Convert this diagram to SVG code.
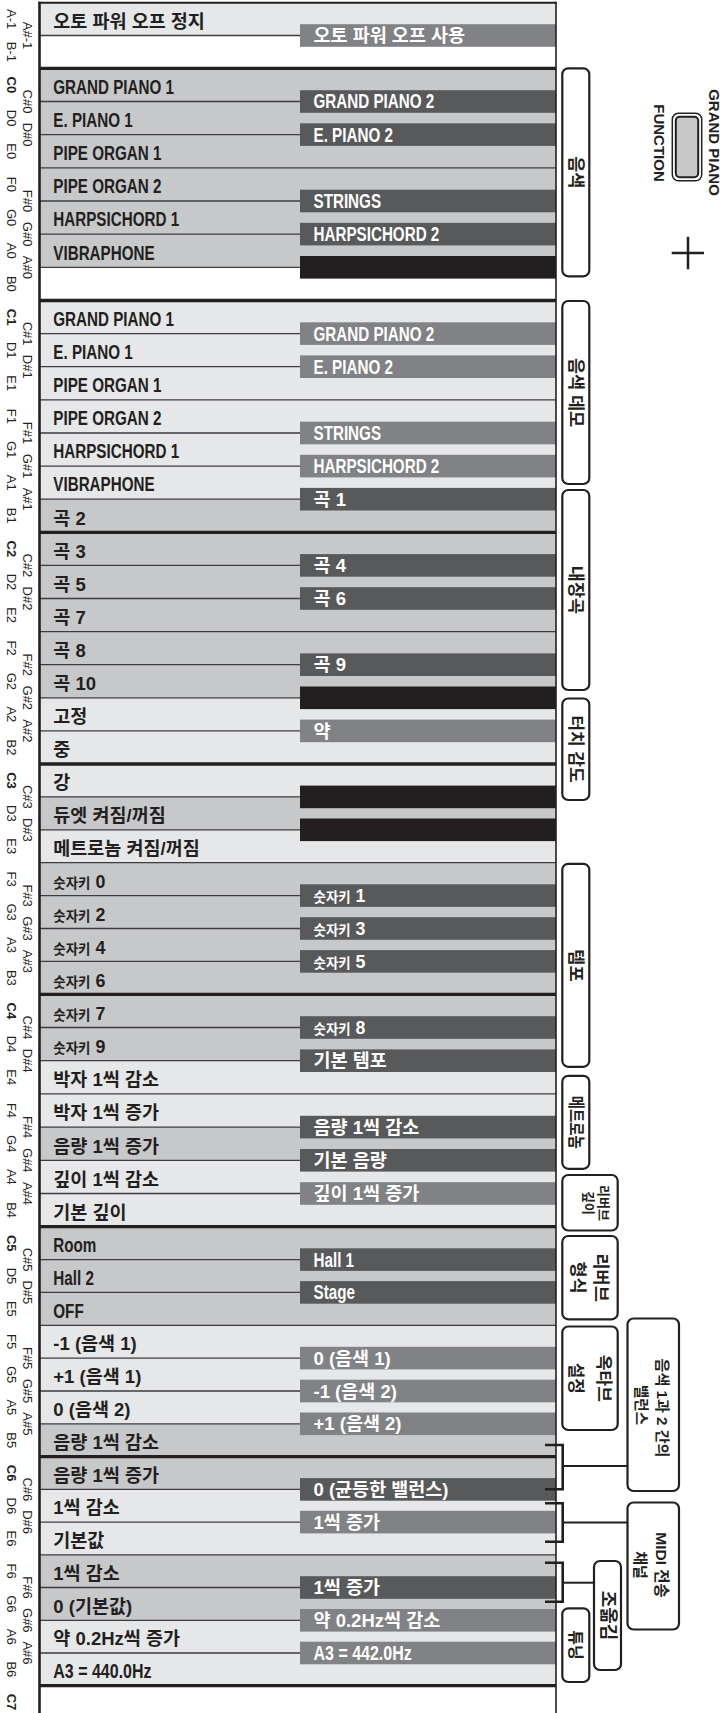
<svg xmlns="http://www.w3.org/2000/svg" width="725" height="1713" viewBox="0 0 725 1713">
<style>
.lt{fill:#e6e7e8}.md{fill:#c7c8ca}.wh{fill:#fff}
.bm{fill:#808285}.bd{fill:#58595b}.bk{fill:#231f20}
.rl{fill:none;stroke:#3d3d3f;stroke-width:1.3}
.cl{fill:none;stroke:#231f20;stroke-width:3.3}
.t{font-family:"Liberation Sans","Noto Sans CJK KR",sans-serif;font-weight:bold;font-size:18.5px;fill:#231f20}
.lat{font-size:19.5px}
.w{fill:#fff}
.s{font-size:14px}
.n{font-family:"Liberation Sans",sans-serif;font-size:13px;fill:#231f20;text-anchor:middle;dominant-baseline:central}
.nb{font-weight:bold}
.box{fill:#fff;stroke:#231f20;stroke-width:2.2}
.bl{font-family:"Liberation Sans","Noto Sans CJK KR",sans-serif;font-weight:bold;fill:#231f20;text-anchor:middle;dominant-baseline:central}
.br{fill:none;stroke:#231f20;stroke-width:2.6}
.cn{fill:none;stroke:#231f20;stroke-width:2}
</style>
<rect width="725" height="1713" fill="#fff"/>

<!-- white key rows -->
<g id="key-A-1"><rect class="lt" x="39.5" y="2.7" width="516.5" height="32.8"/><text class="t" x="53.3" y="27.7">오토 파워 오프 정지</text></g>
<g id="key-B-1"><rect class="wh" x="39.5" y="35.5" width="516.5" height="32.8"/></g>

<g id="key-C0"><rect class="md" x="39.5" y="68.3" width="516.5" height="33.2"/><text class="t lat" transform="matrix(0.78 0 0 1 53.3 93.7)">GRAND PIANO 1</text></g>
<g id="key-D0"><rect class="md" x="39.5" y="101.5" width="516.5" height="33.1"/><text class="t lat" transform="matrix(0.78 0 0 1 53.3 126.8)">E. PIANO 1</text></g>
<g id="key-E0"><rect class="md" x="39.5" y="134.6" width="516.5" height="33.2"/><text class="t lat" transform="matrix(0.78 0 0 1 53.3 160)">PIPE ORGAN 1</text></g>
<g id="key-F0"><rect class="md" x="39.5" y="167.8" width="516.5" height="33.2"/><text class="t lat" transform="matrix(0.78 0 0 1 53.3 193.2)">PIPE ORGAN 2</text></g>
<g id="key-G0"><rect class="md" x="39.5" y="201" width="516.5" height="33.1"/><text class="t lat" transform="matrix(0.78 0 0 1 53.3 226.3)">HARPSICHORD 1</text></g>
<g id="key-A0"><rect class="md" x="39.5" y="234.1" width="516.5" height="33.2"/><text class="t lat" transform="matrix(0.78 0 0 1 53.3 259.5)">VIBRAPHONE</text></g>
<g id="key-B0"><rect class="wh" x="39.5" y="267.3" width="516.5" height="33.2"/></g>

<g id="key-C1"><rect class="lt" x="39.5" y="300.5" width="516.5" height="33.1"/><text class="t lat" transform="matrix(0.78 0 0 1 53.3 325.8)">GRAND PIANO 1</text></g>
<g id="key-D1"><rect class="lt" x="39.5" y="333.6" width="516.5" height="33.1"/><text class="t lat" transform="matrix(0.78 0 0 1 53.3 358.9)">E. PIANO 1</text></g>
<g id="key-E1"><rect class="lt" x="39.5" y="366.7" width="516.5" height="33.1"/><text class="t lat" transform="matrix(0.78 0 0 1 53.3 392)">PIPE ORGAN 1</text></g>
<g id="key-F1"><rect class="lt" x="39.5" y="399.8" width="516.5" height="33.2"/><text class="t lat" transform="matrix(0.78 0 0 1 53.3 425.2)">PIPE ORGAN 2</text></g>
<g id="key-G1"><rect class="lt" x="39.5" y="433" width="516.5" height="33.1"/><text class="t lat" transform="matrix(0.78 0 0 1 53.3 458.3)">HARPSICHORD 1</text></g>
<g id="key-A1"><rect class="lt" x="39.5" y="466.1" width="516.5" height="33.1"/><text class="t lat" transform="matrix(0.78 0 0 1 53.3 491.4)">VIBRAPHONE</text></g>
<g id="key-B1"><rect class="md" x="39.5" y="499.2" width="516.5" height="33.1"/><text class="t" x="53.3" y="524.5">곡 2</text></g>

<g id="key-C2"><rect class="md" x="39.5" y="532.3" width="516.5" height="33.1"/><text class="t" x="53.3" y="557.6">곡 3</text></g>
<g id="key-D2"><rect class="md" x="39.5" y="565.4" width="516.5" height="33.1"/><text class="t" x="53.3" y="590.7">곡 5</text></g>
<g id="key-E2"><rect class="md" x="39.5" y="598.5" width="516.5" height="33.1"/><text class="t" x="53.3" y="623.8">곡 7</text></g>
<g id="key-F2"><rect class="md" x="39.5" y="631.6" width="516.5" height="33.1"/><text class="t" x="53.3" y="656.9">곡 8</text></g>
<g id="key-G2"><rect class="md" x="39.5" y="664.7" width="516.5" height="33.1"/><text class="t" x="53.3" y="690">곡 10</text></g>
<g id="key-A2"><rect class="lt" x="39.5" y="697.8" width="516.5" height="33.1"/><text class="t" x="53.3" y="723.1">고정</text></g>
<g id="key-B2"><rect class="lt" x="39.5" y="730.9" width="516.5" height="33.1"/><text class="t" x="53.3" y="756.2">중</text></g>

<g id="key-C3"><rect class="lt" x="39.5" y="764" width="516.5" height="32.9"/><text class="t" x="53.3" y="789.1">강</text></g>
<g id="key-D3"><rect class="md" x="39.5" y="796.9" width="516.5" height="32.9"/><text class="t" x="53.3" y="822">듀엣 켜짐/꺼짐</text></g>
<g id="key-E3"><rect class="lt" x="39.5" y="829.8" width="516.5" height="32.9"/><text class="t" x="53.3" y="854.9">메트로놈 켜짐/꺼짐</text></g>
<g id="key-F3"><rect class="md" x="39.5" y="862.7" width="516.5" height="32.9"/><text class="t" x="53.3" y="887.8" textLength="52" lengthAdjust="spacingAndGlyphs"><tspan class="s">숫자키</tspan> 0</text></g>
<g id="key-G3"><rect class="md" x="39.5" y="895.6" width="516.5" height="32.9"/><text class="t" x="53.3" y="920.7" textLength="52" lengthAdjust="spacingAndGlyphs"><tspan class="s">숫자키</tspan> 2</text></g>
<g id="key-A3"><rect class="md" x="39.5" y="928.5" width="516.5" height="32.9"/><text class="t" x="53.3" y="953.6" textLength="52" lengthAdjust="spacingAndGlyphs"><tspan class="s">숫자키</tspan> 4</text></g>
<g id="key-B3"><rect class="md" x="39.5" y="961.4" width="516.5" height="32.9"/><text class="t" x="53.3" y="986.5" textLength="52" lengthAdjust="spacingAndGlyphs"><tspan class="s">숫자키</tspan> 6</text></g>

<g id="key-C4"><rect class="md" x="39.5" y="994.3" width="516.5" height="33.2"/><text class="t" x="53.3" y="1019.7" textLength="52" lengthAdjust="spacingAndGlyphs"><tspan class="s">숫자키</tspan> 7</text></g>
<g id="key-D4"><rect class="md" x="39.5" y="1027.5" width="516.5" height="33.2"/><text class="t" x="53.3" y="1052.9" textLength="52" lengthAdjust="spacingAndGlyphs"><tspan class="s">숫자키</tspan> 9</text></g>
<g id="key-E4"><rect class="lt" x="39.5" y="1060.7" width="516.5" height="33.2"/><text class="t" x="53.3" y="1086.1">박자 1씩 감소</text></g>
<g id="key-F4"><rect class="lt" x="39.5" y="1093.9" width="516.5" height="33.2"/><text class="t" x="53.3" y="1119.3">박자 1씩 증가</text></g>
<g id="key-G4"><rect class="md" x="39.5" y="1127.1" width="516.5" height="33.2"/><text class="t" x="53.3" y="1152.5">음량 1씩 증가</text></g>
<g id="key-A4"><rect class="lt" x="39.5" y="1160.3" width="516.5" height="33.2"/><text class="t" x="53.3" y="1185.7">깊이 1씩 감소</text></g>
<g id="key-B4"><rect class="lt" x="39.5" y="1193.5" width="516.5" height="33.2"/><text class="t" x="53.3" y="1218.9">기본 깊이</text></g>

<g id="key-C5"><rect class="md" x="39.5" y="1226.7" width="516.5" height="32.9"/><text class="t lat" transform="matrix(0.78 0 0 1 53.3 1251.8)">Room</text></g>
<g id="key-D5"><rect class="md" x="39.5" y="1259.6" width="516.5" height="32.8"/><text class="t lat" transform="matrix(0.78 0 0 1 53.3 1284.6)">Hall 2</text></g>
<g id="key-E5"><rect class="md" x="39.5" y="1292.4" width="516.5" height="32.9"/><text class="t lat" transform="matrix(0.78 0 0 1 53.3 1317.5)">OFF</text></g>
<g id="key-F5"><rect class="lt" x="39.5" y="1325.3" width="516.5" height="32.8"/><text class="t" x="53.3" y="1350.3">-1 (음색 1)</text></g>
<g id="key-G5"><rect class="lt" x="39.5" y="1358.1" width="516.5" height="32.9"/><text class="t" x="53.3" y="1383.2">+1 (음색 1)</text></g>
<g id="key-A5"><rect class="lt" x="39.5" y="1391" width="516.5" height="32.8"/><text class="t" x="53.3" y="1416">0 (음색 2)</text></g>
<g id="key-B5"><rect class="md" x="39.5" y="1423.8" width="516.5" height="32.9"/><text class="t" x="53.3" y="1448.9">음량 1씩 감소</text></g>

<g id="key-C6"><rect class="md" x="39.5" y="1456.7" width="516.5" height="32.7"/><text class="t" x="53.3" y="1481.6">음량 1씩 증가</text></g>
<g id="key-D6"><rect class="lt" x="39.5" y="1489.4" width="516.5" height="32.7"/><text class="t" x="53.3" y="1514.3">1씩 감소</text></g>
<g id="key-E6"><rect class="lt" x="39.5" y="1522.1" width="516.5" height="32.7"/><text class="t" x="53.3" y="1547">기본값</text></g>
<g id="key-F6"><rect class="md" x="39.5" y="1554.8" width="516.5" height="32.7"/><text class="t" x="53.3" y="1579.7">1씩 감소</text></g>
<g id="key-G6"><rect class="md" x="39.5" y="1587.5" width="516.5" height="32.8"/><text class="t" x="53.3" y="1612.5">0 (기본값)</text></g>
<g id="key-A6"><rect class="lt" x="39.5" y="1620.3" width="516.5" height="32.7"/><text class="t" x="53.3" y="1645.2">약 0.2Hz씩 증가</text></g>
<g id="key-B6"><rect class="lt" x="39.5" y="1653" width="516.5" height="32.7"/><text class="t lat" transform="matrix(0.82 0 0 1 53.3 1677.9)">A3 = 440.0Hz</text></g>
<g id="key-C7"><rect class="wh" x="39.5" y="1685.7" width="516.5" height="27.3"/></g>

<!-- row separators -->
<g id="separators">
<path class="rl" d="M39.5 35.5H556M39.5 101.5H556M39.5 134.6H556M39.5 167.8H556M39.5 201H556M39.5 234.1H556M39.5 267.3H556M39.5 333.6H556M39.5 366.7H556M39.5 399.8H556M39.5 433H556M39.5 466.1H556M39.5 499.2H556M39.5 565.4H556M39.5 598.5H556M39.5 631.6H556M39.5 664.7H556M39.5 697.8H556M39.5 730.9H556M39.5 796.9H556M39.5 829.8H556M39.5 862.7H556M39.5 895.6H556M39.5 928.5H556M39.5 961.4H556M39.5 1027.5H556M39.5 1060.7H556M39.5 1093.9H556M39.5 1127.1H556M39.5 1160.3H556M39.5 1193.5H556M39.5 1259.6H556M39.5 1292.4H556M39.5 1325.3H556M39.5 1358.1H556M39.5 1391H556M39.5 1423.8H556M39.5 1489.4H556M39.5 1522.1H556M39.5 1554.8H556M39.5 1587.5H556M39.5 1620.3H556M39.5 1653H556"/>
<path class="cl" d="M39.5 68.3H556M39.5 300.5H556M39.5 532.3H556M39.5 764H556M39.5 994.3H556M39.5 1226.7H556M39.5 1456.7H556M39.5 1685.7H556"/>
</g>

<!-- black key bars -->
<g id="key-Asharp-1"><rect class="bm" x="300" y="24.2" width="256" height="22.6"/><text class="t w" x="313.5" y="42.1">오토 파워 오프 사용</text></g>

<g id="key-Csharp0"><rect class="bd" x="300" y="90.2" width="256" height="22.6"/><text class="t lat w" transform="matrix(0.78 0 0 1 313.5 108.4)">GRAND PIANO 2</text></g>
<g id="key-Dsharp0"><rect class="bd" x="300" y="123.3" width="256" height="22.6"/><text class="t lat w" transform="matrix(0.78 0 0 1 313.5 141.5)">E. PIANO 2</text></g>
<g id="key-Fsharp0"><rect class="bd" x="300" y="189.7" width="256" height="22.6"/><text class="t lat w" transform="matrix(0.78 0 0 1 313.5 207.9)">STRINGS</text></g>
<g id="key-Gsharp0"><rect class="bd" x="300" y="222.8" width="256" height="22.6"/><text class="t lat w" transform="matrix(0.78 0 0 1 313.5 241)">HARPSICHORD 2</text></g>
<g id="key-Asharp0"><rect class="bk" x="300" y="256" width="256" height="22.6"/></g>

<g id="key-Csharp1"><rect class="bm" x="300" y="322.3" width="256" height="22.6"/><text class="t lat w" transform="matrix(0.78 0 0 1 313.5 340.5)">GRAND PIANO 2</text></g>
<g id="key-Dsharp1"><rect class="bm" x="300" y="355.4" width="256" height="22.6"/><text class="t lat w" transform="matrix(0.78 0 0 1 313.5 373.6)">E. PIANO 2</text></g>
<g id="key-Fsharp1"><rect class="bm" x="300" y="421.7" width="256" height="22.6"/><text class="t lat w" transform="matrix(0.78 0 0 1 313.5 439.9)">STRINGS</text></g>
<g id="key-Gsharp1"><rect class="bm" x="300" y="454.8" width="256" height="22.6"/><text class="t lat w" transform="matrix(0.78 0 0 1 313.5 473)">HARPSICHORD 2</text></g>
<g id="key-Asharp1"><rect class="bd" x="300" y="487.9" width="256" height="22.6"/><text class="t w" x="313.5" y="505.8">곡 1</text></g>

<g id="key-Csharp2"><rect class="bd" x="300" y="554.1" width="256" height="22.6"/><text class="t w" x="313.5" y="572">곡 4</text></g>
<g id="key-Dsharp2"><rect class="bd" x="300" y="587.2" width="256" height="22.6"/><text class="t w" x="313.5" y="605.1">곡 6</text></g>
<g id="key-Fsharp2"><rect class="bd" x="300" y="653.4" width="256" height="22.6"/><text class="t w" x="313.5" y="671.3">곡 9</text></g>
<g id="key-Gsharp2"><rect class="bk" x="300" y="686.5" width="256" height="22.6"/></g>
<g id="key-Asharp2"><rect class="bm" x="300" y="719.6" width="256" height="22.6"/><text class="t w" x="313.5" y="737.5">약</text></g>

<g id="key-Csharp3"><rect class="bk" x="300" y="785.6" width="256" height="22.6"/></g>
<g id="key-Dsharp3"><rect class="bk" x="300" y="818.5" width="256" height="22.6"/></g>
<g id="key-Fsharp3"><rect class="bd" x="300" y="884.3" width="256" height="22.6"/><text class="t w" x="313.5" y="902.2" textLength="52" lengthAdjust="spacingAndGlyphs"><tspan class="s">숫자키</tspan> 1</text></g>
<g id="key-Gsharp3"><rect class="bd" x="300" y="917.2" width="256" height="22.6"/><text class="t w" x="313.5" y="935.1" textLength="52" lengthAdjust="spacingAndGlyphs"><tspan class="s">숫자키</tspan> 3</text></g>
<g id="key-Asharp3"><rect class="bd" x="300" y="950.1" width="256" height="22.6"/><text class="t w" x="313.5" y="968" textLength="52" lengthAdjust="spacingAndGlyphs"><tspan class="s">숫자키</tspan> 5</text></g>

<g id="key-Csharp4"><rect class="bd" x="300" y="1016.2" width="256" height="22.6"/><text class="t w" x="313.5" y="1034.1" textLength="52" lengthAdjust="spacingAndGlyphs"><tspan class="s">숫자키</tspan> 8</text></g>
<g id="key-Dsharp4"><rect class="bd" x="300" y="1049.4" width="256" height="22.6"/><text class="t w" x="313.5" y="1067.3">기본 템포</text></g>
<g id="key-Fsharp4"><rect class="bd" x="300" y="1115.8" width="256" height="22.6"/><text class="t w" x="313.5" y="1133.7">음량 1씩 감소</text></g>
<g id="key-Gsharp4"><rect class="bd" x="300" y="1149" width="256" height="22.6"/><text class="t w" x="313.5" y="1166.9">기본 음량</text></g>
<g id="key-Asharp4"><rect class="bm" x="300" y="1182.2" width="256" height="22.6"/><text class="t w" x="313.5" y="1200.1">깊이 1씩 증가</text></g>

<g id="key-Csharp5"><rect class="bd" x="300" y="1248.3" width="256" height="22.6"/><text class="t lat w" transform="matrix(0.78 0 0 1 313.5 1266.5)">Hall 1</text></g>
<g id="key-Dsharp5"><rect class="bd" x="300" y="1281.1" width="256" height="22.6"/><text class="t lat w" transform="matrix(0.78 0 0 1 313.5 1299.3)">Stage</text></g>
<g id="key-Fsharp5"><rect class="bm" x="300" y="1346.8" width="256" height="22.6"/><text class="t w" x="313.5" y="1364.7">0 (음색 1)</text></g>
<g id="key-Gsharp5"><rect class="bm" x="300" y="1379.7" width="256" height="22.6"/><text class="t w" x="313.5" y="1397.6">-1 (음색 2)</text></g>
<g id="key-Asharp5"><rect class="bm" x="300" y="1412.5" width="256" height="22.6"/><text class="t w" x="313.5" y="1430.4">+1 (음색 2)</text></g>

<g id="key-Csharp6"><rect class="bd" x="300" y="1478.1" width="256" height="22.6"/><text class="t w" x="313.5" y="1496">0 (균등한 밸런스)</text></g>
<g id="key-Dsharp6"><rect class="bm" x="300" y="1510.8" width="256" height="22.6"/><text class="t w" x="313.5" y="1528.7">1씩 증가</text></g>
<g id="key-Fsharp6"><rect class="bd" x="300" y="1576.2" width="256" height="22.6"/><text class="t w" x="313.5" y="1594.1">1씩 증가</text></g>
<g id="key-Gsharp6"><rect class="bm" x="300" y="1609" width="256" height="22.6"/><text class="t w" x="313.5" y="1626.9">약 0.2Hz씩 감소</text></g>
<g id="key-Asharp6"><rect class="bm" x="300" y="1641.7" width="256" height="22.6"/><text class="t lat w" transform="matrix(0.82 0 0 1 313.5 1659.9)">A3 = 442.0Hz</text></g>

<!-- frame -->
<g id="frame" fill="none" stroke="#231f20">
<path d="M39.5 1.7V1713" stroke-width="2.6"/>
<path d="M556 1.7V1713" stroke-width="1.6"/>
<path d="M38.2 2.7H556.8" stroke-width="2"/>
</g>

<!-- note names -->
<g id="note-names">
<text class="n" transform="translate(11 19.1) rotate(90)">A-1</text>
<text class="n" transform="translate(11 51.9) rotate(90)">B-1</text>
<text class="n" transform="translate(27.2 35.5) rotate(90)">A#-1</text>

<text class="n nb" transform="translate(11 84.9) rotate(90)">C0</text>
<text class="n" transform="translate(11 118.1) rotate(90)">D0</text>
<text class="n" transform="translate(11 151.2) rotate(90)">E0</text>
<text class="n" transform="translate(11 184.4) rotate(90)">F0</text>
<text class="n" transform="translate(11 217.6) rotate(90)">G0</text>
<text class="n" transform="translate(11 250.7) rotate(90)">A0</text>
<text class="n" transform="translate(11 283.9) rotate(90)">B0</text>
<text class="n" transform="translate(27.2 101.5) rotate(90)">C#0</text>
<text class="n" transform="translate(27.2 134.6) rotate(90)">D#0</text>
<text class="n" transform="translate(27.2 201) rotate(90)">F#0</text>
<text class="n" transform="translate(27.2 234.1) rotate(90)">G#0</text>
<text class="n" transform="translate(27.2 267.3) rotate(90)">A#0</text>

<text class="n nb" transform="translate(11 317.1) rotate(90)">C1</text>
<text class="n" transform="translate(11 350.2) rotate(90)">D1</text>
<text class="n" transform="translate(11 383.3) rotate(90)">E1</text>
<text class="n" transform="translate(11 416.4) rotate(90)">F1</text>
<text class="n" transform="translate(11 449.6) rotate(90)">G1</text>
<text class="n" transform="translate(11 482.7) rotate(90)">A1</text>
<text class="n" transform="translate(11 515.8) rotate(90)">B1</text>
<text class="n" transform="translate(27.2 333.6) rotate(90)">C#1</text>
<text class="n" transform="translate(27.2 366.7) rotate(90)">D#1</text>
<text class="n" transform="translate(27.2 433) rotate(90)">F#1</text>
<text class="n" transform="translate(27.2 466.1) rotate(90)">G#1</text>
<text class="n" transform="translate(27.2 499.2) rotate(90)">A#1</text>

<text class="n nb" transform="translate(11 548.9) rotate(90)">C2</text>
<text class="n" transform="translate(11 582) rotate(90)">D2</text>
<text class="n" transform="translate(11 615.1) rotate(90)">E2</text>
<text class="n" transform="translate(11 648.2) rotate(90)">F2</text>
<text class="n" transform="translate(11 681.3) rotate(90)">G2</text>
<text class="n" transform="translate(11 714.4) rotate(90)">A2</text>
<text class="n" transform="translate(11 747.5) rotate(90)">B2</text>
<text class="n" transform="translate(27.2 565.4) rotate(90)">C#2</text>
<text class="n" transform="translate(27.2 598.5) rotate(90)">D#2</text>
<text class="n" transform="translate(27.2 664.7) rotate(90)">F#2</text>
<text class="n" transform="translate(27.2 697.8) rotate(90)">G#2</text>
<text class="n" transform="translate(27.2 730.9) rotate(90)">A#2</text>

<text class="n nb" transform="translate(11 780.5) rotate(90)">C3</text>
<text class="n" transform="translate(11 813.4) rotate(90)">D3</text>
<text class="n" transform="translate(11 846.3) rotate(90)">E3</text>
<text class="n" transform="translate(11 879.2) rotate(90)">F3</text>
<text class="n" transform="translate(11 912.1) rotate(90)">G3</text>
<text class="n" transform="translate(11 945) rotate(90)">A3</text>
<text class="n" transform="translate(11 977.9) rotate(90)">B3</text>
<text class="n" transform="translate(27.2 796.9) rotate(90)">C#3</text>
<text class="n" transform="translate(27.2 829.8) rotate(90)">D#3</text>
<text class="n" transform="translate(27.2 895.6) rotate(90)">F#3</text>
<text class="n" transform="translate(27.2 928.5) rotate(90)">G#3</text>
<text class="n" transform="translate(27.2 961.4) rotate(90)">A#3</text>

<text class="n nb" transform="translate(11 1010.9) rotate(90)">C4</text>
<text class="n" transform="translate(11 1044.1) rotate(90)">D4</text>
<text class="n" transform="translate(11 1077.3) rotate(90)">E4</text>
<text class="n" transform="translate(11 1110.5) rotate(90)">F4</text>
<text class="n" transform="translate(11 1143.7) rotate(90)">G4</text>
<text class="n" transform="translate(11 1176.9) rotate(90)">A4</text>
<text class="n" transform="translate(11 1210.1) rotate(90)">B4</text>
<text class="n" transform="translate(27.2 1027.5) rotate(90)">C#4</text>
<text class="n" transform="translate(27.2 1060.7) rotate(90)">D#4</text>
<text class="n" transform="translate(27.2 1127.1) rotate(90)">F#4</text>
<text class="n" transform="translate(27.2 1160.3) rotate(90)">G#4</text>
<text class="n" transform="translate(27.2 1193.5) rotate(90)">A#4</text>

<text class="n nb" transform="translate(11 1243.2) rotate(90)">C5</text>
<text class="n" transform="translate(11 1276) rotate(90)">D5</text>
<text class="n" transform="translate(11 1308.9) rotate(90)">E5</text>
<text class="n" transform="translate(11 1341.7) rotate(90)">F5</text>
<text class="n" transform="translate(11 1374.6) rotate(90)">G5</text>
<text class="n" transform="translate(11 1407.4) rotate(90)">A5</text>
<text class="n" transform="translate(11 1440.3) rotate(90)">B5</text>
<text class="n" transform="translate(27.2 1259.6) rotate(90)">C#5</text>
<text class="n" transform="translate(27.2 1292.4) rotate(90)">D#5</text>
<text class="n" transform="translate(27.2 1358.1) rotate(90)">F#5</text>
<text class="n" transform="translate(27.2 1391) rotate(90)">G#5</text>
<text class="n" transform="translate(27.2 1423.8) rotate(90)">A#5</text>

<text class="n nb" transform="translate(11 1473.1) rotate(90)">C6</text>
<text class="n" transform="translate(11 1505.8) rotate(90)">D6</text>
<text class="n" transform="translate(11 1538.5) rotate(90)">E6</text>
<text class="n" transform="translate(11 1571.2) rotate(90)">F6</text>
<text class="n" transform="translate(11 1603.9) rotate(90)">G6</text>
<text class="n" transform="translate(11 1636.7) rotate(90)">A6</text>
<text class="n" transform="translate(11 1669.4) rotate(90)">B6</text>
<text class="n" transform="translate(27.2 1489.4) rotate(90)">C#6</text>
<text class="n" transform="translate(27.2 1522.1) rotate(90)">D#6</text>
<text class="n" transform="translate(27.2 1587.5) rotate(90)">F#6</text>
<text class="n" transform="translate(27.2 1620.3) rotate(90)">G#6</text>
<text class="n" transform="translate(27.2 1653) rotate(90)">A#6</text>

<text class="n nb" transform="translate(11 1702) rotate(90)">C7</text>
</g>

<!-- connectors (brackets) -->
<g id="connectors">
<path class="br" d="M545 1445H562.7V1489.3H545"/>
<path class="cn" d="M562.7 1466H627.5"/>
<path class="br" d="M545 1503.3H562.7V1541.7H545"/>
<path class="cn" d="M562.7 1522.5H627.5"/>
<path class="br" d="M545 1562.7H562.7V1601.7H545"/>
<path class="cn" d="M562.7 1582.7H594"/>
</g>

<!-- function labels -->
<g id="label-voice"><rect class="box" x="562.3" y="68.3" width="27" height="208" rx="6"/><text class="bl" font-size="17.5" transform="translate(575.8 172.3) rotate(90)">음색</text></g>
<g id="label-voice-demo"><rect class="box" x="562.3" y="301" width="27" height="183" rx="6"/><text class="bl" font-size="17.5" transform="translate(575.8 392.5) rotate(90)">음색 데모</text></g>
<g id="label-songs"><rect class="box" x="562.3" y="490" width="27" height="200" rx="6"/><text class="bl" font-size="17.5" transform="translate(575.8 590) rotate(90)">내장곡</text></g>
<g id="label-touch"><rect class="box" x="562.3" y="698.5" width="27" height="101.5" rx="6"/><text class="bl" font-size="17" transform="translate(575.8 749) rotate(90)">터치 감도</text></g>
<g id="label-tempo"><rect class="box" x="562.3" y="863.8" width="27" height="203" rx="6"/><text class="bl" font-size="17.5" transform="translate(575.8 965.4) rotate(90)">템포</text></g>
<g id="label-metronome"><rect class="box" x="562.3" y="1075.8" width="27" height="93" rx="6"/><text class="bl" font-size="17" textLength="53" lengthAdjust="spacingAndGlyphs" transform="translate(575.8 1122.3) rotate(90)">메트로놈</text></g>
<g id="label-reverb-depth"><rect class="box" x="562.3" y="1175" width="55.4" height="55.5" rx="6"/><text class="bl" font-size="13" transform="translate(603.3 1203) rotate(90)">리버브</text><text class="bl" font-size="13" transform="translate(588.3 1203) rotate(90)">깊이</text></g>
<g id="label-reverb-type"><rect class="box" x="562.3" y="1236" width="55.4" height="83.3" rx="6"/><text class="bl" font-size="17.5" transform="translate(600.8 1277.6) rotate(90)">리버브</text><text class="bl" font-size="17.5" transform="translate(577.5 1277.6) rotate(90)">형식</text></g>
<g id="label-octave"><rect class="box" x="562.3" y="1326.5" width="55.4" height="103.5" rx="6"/><text class="bl" font-size="17" transform="translate(603.3 1378.3) rotate(90)">옥타브</text><text class="bl" font-size="17" transform="translate(575.8 1378.3) rotate(90)">설정</text></g>
<g id="label-balance"><rect class="box" x="627.5" y="1318.5" width="51.5" height="172.5" rx="6"/><text class="bl" font-size="14.5" textLength="99" lengthAdjust="spacingAndGlyphs" transform="translate(661.7 1408) rotate(90)">음색 1과 2 간의</text><text class="bl" font-size="14.5" transform="translate(640.8 1405) rotate(90)">밸런스</text></g>
<g id="label-midi"><rect class="box" x="627.5" y="1502.5" width="51.5" height="127" rx="6"/><text class="bl" font-size="15.5" transform="translate(661.7 1565) rotate(90)">MIDI 전송</text><text class="bl" font-size="15" transform="translate(640.5 1565) rotate(90)">채널</text></g>
<g id="label-transpose"><rect class="box" x="594" y="1561" width="27" height="109" rx="6"/><text class="bl" font-size="18" transform="translate(607.5 1615.5) rotate(90)">조옮김</text></g>
<g id="label-tuning"><rect class="box" x="562.3" y="1608.3" width="27" height="73.7" rx="6"/><text class="bl" font-size="16" transform="translate(575.8 1645) rotate(90)">튜닝</text></g>

<!-- GRAND PIANO / FUNCTION button -->
<g id="button">
<rect x="672.3" y="113.3" width="29.4" height="67.4" rx="6" fill="#fff" stroke="#231f20" stroke-width="1.5"/>
<rect x="675.8" y="116.8" width="22.4" height="60.4" rx="4" fill="#c7c8ca" stroke="#231f20" stroke-width="2"/>
<text class="bl" font-size="15" transform="translate(714.8 142.5) rotate(90)">GRAND PIANO</text>
<text class="bl" font-size="15" transform="translate(659 143) rotate(90)">FUNCTION</text>
</g>
<g id="plus"><path d="M671.7 253H704M688 236.7V269.3" fill="none" stroke="#231f20" stroke-width="2.5"/></g>
</svg>
